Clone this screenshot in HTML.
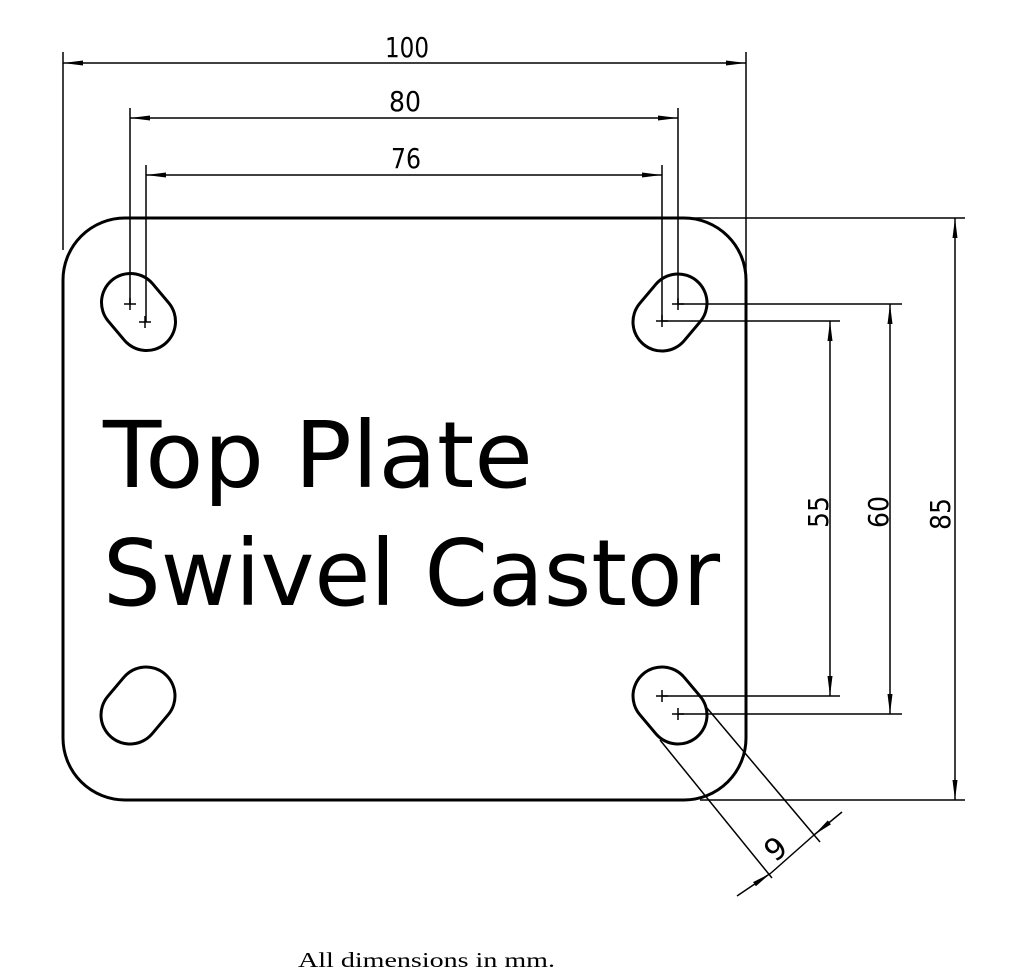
<!DOCTYPE html>
<html><head><meta charset="utf-8"><style>html,body{margin:0;padding:0;background:#fff}svg{display:block}</style></head><body>
<svg width="1024" height="978" viewBox="0 0 1024 978" xmlns="http://www.w3.org/2000/svg">
<defs>
<marker id="a" viewBox="0 0 20 8" refX="20" refY="4" markerWidth="20" markerHeight="8" markerUnits="userSpaceOnUse" orient="auto-start-reverse"><path d="M0,1.5 L20,4 L0,6.5 Z" fill="#000"/></marker>
</defs>
<rect x="63" y="218" width="683" height="582" rx="62" ry="62" fill="none" stroke="#000" stroke-width="3"/>
<g stroke="#000" stroke-width="61" stroke-linecap="round">
<line x1="130.5" y1="302.5" x2="146.5" y2="321.5"/>
<line x1="678" y1="303" x2="662" y2="322"/>
<line x1="662" y1="696" x2="678" y2="715"/>
<line x1="146" y1="696" x2="130" y2="715"/>
</g>
<g stroke="#fff" stroke-width="55" stroke-linecap="round">
<line x1="130.5" y1="302.5" x2="146.5" y2="321.5"/>
<line x1="678" y1="303" x2="662" y2="322"/>
<line x1="662" y1="696" x2="678" y2="715"/>
<line x1="146" y1="696" x2="130" y2="715"/>
</g>
<g fill="none" stroke="#000" stroke-width="1.5">
<line x1="63" y1="52" x2="63" y2="250"/><line x1="746" y1="52" x2="746" y2="295"/>
<line x1="63" y1="63" x2="746" y2="63" marker-start="url(#a)" marker-end="url(#a)"/>
<line x1="130" y1="108" x2="130" y2="304"/><line x1="678" y1="108" x2="678" y2="304"/>
<line x1="130" y1="118" x2="678" y2="118" marker-start="url(#a)" marker-end="url(#a)"/>
<line x1="146" y1="165" x2="146" y2="322"/><line x1="662" y1="165" x2="662" y2="322"/>
<line x1="146" y1="175" x2="662" y2="175" marker-start="url(#a)" marker-end="url(#a)"/>
<line x1="690" y1="218" x2="965" y2="218"/><line x1="700" y1="800" x2="965" y2="800"/>
<line x1="955" y1="218" x2="955" y2="800" marker-start="url(#a)" marker-end="url(#a)"/>
<line x1="678" y1="304" x2="902" y2="304"/><line x1="678" y1="714" x2="902" y2="714"/>
<line x1="890" y1="304" x2="890" y2="714" marker-start="url(#a)" marker-end="url(#a)"/>
<line x1="662" y1="321" x2="840" y2="321"/><line x1="662" y1="696" x2="840" y2="696"/>
<line x1="830" y1="321" x2="830" y2="696" marker-start="url(#a)" marker-end="url(#a)"/>
<line x1="707" y1="708" x2="820" y2="842"/><line x1="660" y1="740" x2="772" y2="878"/>
<line x1="737" y1="896" x2="771" y2="873" marker-end="url(#a)"/>
<line x1="842" y1="812" x2="814" y2="835" marker-end="url(#a)"/>
<line x1="771" y1="873" x2="814" y2="835"/>
<path d="M124,304h12M130,298v12M139,322h12M145,316v12M672,304h12M678,298v12M656,321h12M662,315v12M656,696h12M662,690v12M672,714h12M678,708v12"/>
</g>
<g font-family="DejaVu Sans, sans-serif" font-size="28" fill="#000">
<text x="385" y="57" textLength="44" lengthAdjust="spacingAndGlyphs">100</text>
<text x="389" y="111" textLength="32" lengthAdjust="spacingAndGlyphs">80</text>
<text x="391" y="168" textLength="30" lengthAdjust="spacingAndGlyphs">76</text>
<text transform="translate(828,528) rotate(-90)" textLength="32" lengthAdjust="spacingAndGlyphs">55</text>
<text transform="translate(888,528) rotate(-90)" textLength="32" lengthAdjust="spacingAndGlyphs">60</text>
<text transform="translate(950,530) rotate(-90)" textLength="32" lengthAdjust="spacingAndGlyphs">85</text>
<text transform="translate(775,863) rotate(-40)" font-size="30">9</text>
</g>
<g font-family="DejaVu Sans, sans-serif" font-size="92" fill="#000">
<text x="103" y="487" textLength="430" lengthAdjust="spacingAndGlyphs">Top Plate</text>
<text x="103" y="605" textLength="617" lengthAdjust="spacingAndGlyphs">Swivel Castor</text>
</g>
<text x="298" y="967" font-family="Liberation Serif, serif" font-size="21" textLength="257" lengthAdjust="spacingAndGlyphs">All dimensions in mm.</text>
</svg>
</body></html>
